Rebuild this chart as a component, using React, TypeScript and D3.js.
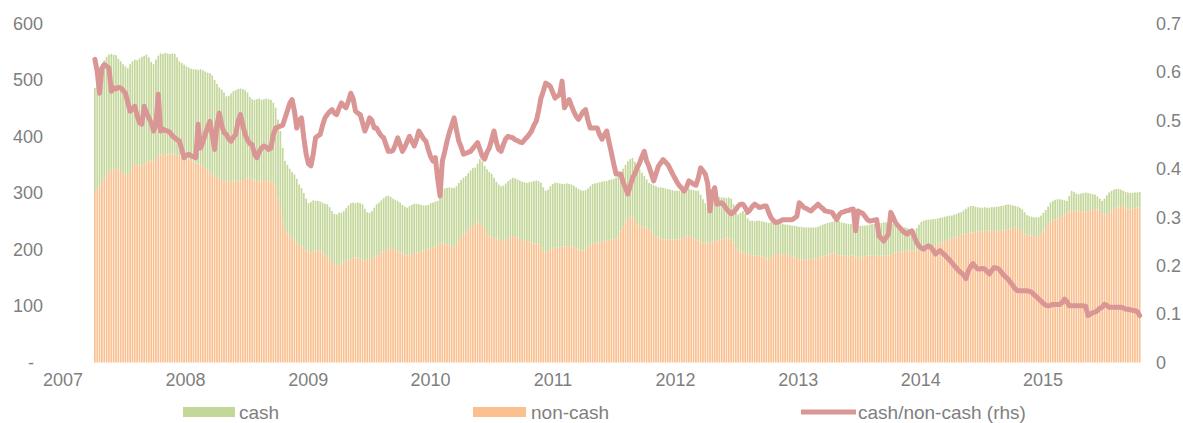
import React from 'react';
import * as d3 from 'd3';

// weekly observations, first week ending 6 Apr 2007
const firstWeek = new Date(2007, 3, 6);

const nonCash = [
  300, 305, 312, 318, 325, 332, 337, 341, 344, 343,
  340, 339, 336, 333, 330, 338, 346, 351, 350, 348,
  349, 352, 355, 357, 356, 356, 360, 366, 368, 367,
  369, 368, 370, 368, 368, 366, 367, 365, 363, 362,
  360, 358, 356, 354, 352, 351, 348, 344, 340, 336,
  332, 330, 327, 325, 323, 322, 321, 321, 320, 322,
  321, 322, 321, 323, 325, 326, 327, 324, 322, 321,
  320, 322, 321, 323, 321, 320, 318, 310, 290, 270,
  248, 236, 230, 225, 220, 215, 212, 208, 205, 203,
  198, 196, 195, 197, 199, 198, 198, 195, 191, 186,
  183, 178, 174, 171, 172, 175, 178, 180, 181, 183,
  185, 186, 186, 184, 181, 180, 182, 183, 183, 186,
  189, 192, 195, 197, 199, 201, 203, 201, 199, 196,
  195, 193, 191, 189, 190, 192, 194, 195, 195, 196,
  198, 200, 202, 203, 203, 205, 208, 210, 212, 211,
  209, 207, 206, 206, 210, 216, 222, 227, 230, 234,
  238, 242, 245, 248, 247, 242, 236, 229, 223, 221,
  220, 219, 217, 215, 215, 217, 220, 222, 224, 223,
  221, 219, 217, 216, 215, 214, 213, 211, 210, 209,
  204, 197, 195, 197, 200, 202, 203, 203, 204, 205,
  205, 206, 206, 205, 204, 202, 200, 198, 198, 200,
  205, 209, 210, 211, 212, 213, 214, 215, 216, 217,
  218, 218, 219, 225, 232, 240, 248, 254, 259, 257,
  250, 244, 242, 240, 240, 239, 236, 232, 226, 223,
  221, 220, 218, 218, 218, 217, 218, 218, 218, 219,
  220, 222, 223, 224, 222, 220, 218, 216, 213, 212,
  211, 212, 213, 214, 215, 216, 217, 218, 220, 221,
  220, 218, 212, 204, 200, 197, 195, 194, 192, 191,
  190, 190, 189, 189, 188, 186, 184, 183, 186, 190,
  192, 192, 192, 191, 192, 192, 190, 188, 186, 183,
  183, 183, 182, 183, 183, 183, 183, 184, 185, 186,
  188, 189, 189, 191, 193, 194, 192, 190, 189, 189,
  189, 188, 189, 189, 188, 186, 186, 187, 188, 189,
  189, 189, 190, 189, 188, 189, 189, 190, 189, 191,
  194, 195, 196, 196, 197, 197, 198, 198, 198, 198,
  198, 198, 197, 198, 198, 199, 200, 202, 206, 210,
  211, 212, 214, 215, 217, 219, 221, 223, 224, 226,
  227, 228, 229, 230, 230, 231, 232, 232, 233, 233,
  233, 233, 234, 233, 233, 233, 233, 234, 235, 236,
  237, 238, 239, 238, 236, 231, 227, 226, 225, 225,
  224, 224, 224, 226, 232, 238, 245, 248, 251, 253,
  255, 256, 259, 262, 265, 267, 268, 269, 268, 268,
  267, 268, 268, 268, 269, 270, 271, 271, 270, 262,
  260, 262, 265, 268, 271, 274, 276, 277, 276, 273,
  271, 271, 272, 273, 274, 274,
];

const cash = [
  186, 195, 203, 210, 210, 209, 208, 205, 201, 201,
  198, 194, 192, 191, 191, 190, 187, 185, 185, 190,
  192, 191, 190, 183, 176, 172, 176, 177, 179, 179,
  179, 179, 176, 179, 178, 174, 166, 165, 164, 162,
  162, 162, 163, 165, 166, 168, 169, 171, 173, 176,
  176, 170, 166, 162, 160, 156, 150, 151, 156, 158,
  161, 162, 164, 161, 157, 152, 143, 142, 143, 145,
  147, 143, 145, 144, 145, 145, 142, 141, 140, 140,
  132, 121, 120, 118, 117, 118, 113, 107, 104, 97,
  92, 86, 89, 90, 87, 88, 87, 88, 90, 94,
  92, 90, 89, 91, 93, 90, 90, 93, 97, 99,
  98, 96, 97, 98, 99, 92, 84, 82, 85, 88,
  91, 91, 92, 94, 95, 94, 90, 89, 89, 90,
  88, 86, 85, 85, 87, 87, 87, 86, 85, 83,
  80, 78, 77, 79, 80, 80, 78, 82, 97, 97,
  100, 103, 103, 103, 102, 102, 101, 100, 100, 101,
  102, 102, 100, 104, 113, 114, 112, 113, 114, 113,
  107, 101, 98, 97, 98, 100, 101, 102, 103, 103,
  103, 103, 103, 103, 103, 105, 107, 110, 112, 112,
  114, 113, 109, 109, 112, 114, 115, 115, 113, 111,
  111, 111, 110, 110, 109, 108, 107, 107, 106, 105,
  103, 103, 106, 106, 106, 106, 106, 106, 105, 106,
  106, 107, 108, 105, 104, 103, 102, 102, 101, 105,
  105, 103, 100, 96, 90, 85, 82, 84, 88, 89,
  89, 90, 91, 90, 89, 89, 87, 86, 86, 85,
  85, 84, 83, 83, 84, 85, 86, 88, 84, 77,
  71, 64, 61, 66, 72, 76, 76, 74, 72, 70,
  72, 72, 68, 61, 62, 68, 73, 69, 63, 60,
  61, 60, 62, 62, 62, 63, 64, 64, 62, 58,
  55, 54, 53, 54, 52, 52, 53, 54, 56, 58,
  57, 57, 57, 56, 56, 56, 56, 55, 55, 56,
  56, 56, 58, 57, 56, 56, 59, 60, 59, 58,
  57, 57, 56, 55, 55, 56, 56, 55, 54, 54,
  55, 56, 55, 57, 59, 58, 59, 58, 59, 56,
  51, 48, 45, 44, 42, 42, 40, 38, 36, 35,
  40, 46, 52, 53, 54, 54, 53, 52, 48, 45,
  45, 45, 44, 44, 43, 41, 41, 40, 41, 40,
  42, 44, 46, 47, 47, 45, 43, 42, 41, 42,
  41, 41, 41, 42, 43, 43, 44, 44, 44, 44,
  42, 40, 38, 38, 38, 40, 39, 35, 34, 33,
  33, 33, 33, 34, 33, 32, 31, 35, 35, 35,
  34, 33, 29, 25, 21, 28, 36, 33, 31, 30,
  32, 32, 33, 32, 30, 28, 26, 23, 20, 24,
  30, 34, 36, 36, 35, 33, 31, 29, 28, 29,
  30, 29, 28, 28, 27, 28,
];

const ratio = [
  0.626, 0.601, 0.556, 0.608, 0.615, 0.612, 0.608, 0.56, 0.567, 0.565,
  0.568, 0.567, 0.562, 0.556, 0.538, 0.519, 0.524, 0.529, 0.51, 0.495,
  0.492, 0.529, 0.515, 0.505, 0.495, 0.478, 0.49, 0.554, 0.478, 0.482,
  0.479, 0.478, 0.475, 0.468, 0.464, 0.46, 0.457, 0.44, 0.423, 0.428,
  0.43, 0.427, 0.425, 0.423, 0.492, 0.443, 0.455, 0.471, 0.485, 0.498,
  0.47, 0.44, 0.49, 0.515, 0.49, 0.475, 0.471, 0.462, 0.457, 0.465,
  0.471, 0.498, 0.512, 0.49, 0.471, 0.46, 0.452, 0.45, 0.43, 0.423,
  0.435, 0.443, 0.447, 0.445, 0.44, 0.443, 0.47, 0.484, 0.486, 0.488,
  0.49, 0.505, 0.52, 0.535, 0.543, 0.519, 0.484, 0.5, 0.505, 0.464,
  0.43, 0.41, 0.406, 0.43, 0.464, 0.468, 0.471, 0.49, 0.505, 0.512,
  0.518, 0.522, 0.515, 0.512, 0.525, 0.536, 0.53, 0.526, 0.54, 0.556,
  0.545, 0.519, 0.515, 0.512, 0.495, 0.478, 0.49, 0.505, 0.5, 0.484,
  0.484, 0.475, 0.468, 0.464, 0.45, 0.436, 0.436, 0.438, 0.45, 0.464,
  0.45, 0.436, 0.445, 0.456, 0.467, 0.457, 0.447, 0.46, 0.478, 0.47,
  0.462, 0.457, 0.44, 0.425, 0.416, 0.423, 0.38, 0.344, 0.416, 0.435,
  0.457, 0.475, 0.49, 0.505, 0.48, 0.457, 0.445, 0.43, 0.432, 0.434,
  0.436, 0.442, 0.448, 0.454, 0.44, 0.426, 0.42, 0.434, 0.443, 0.46,
  0.478, 0.455, 0.44, 0.436, 0.45, 0.462, 0.467, 0.465, 0.464, 0.46,
  0.458, 0.455, 0.454, 0.46, 0.465, 0.471, 0.478, 0.49, 0.498, 0.52,
  0.546, 0.56, 0.577, 0.574, 0.57, 0.558, 0.546, 0.55, 0.553, 0.581,
  0.526, 0.535, 0.543, 0.53, 0.518, 0.508, 0.502, 0.51, 0.518, 0.522,
  0.5, 0.484, 0.484, 0.484, 0.484, 0.47, 0.461, 0.47, 0.478, 0.455,
  0.433, 0.41, 0.389, 0.389, 0.389, 0.372, 0.36, 0.348, 0.365, 0.381,
  0.39, 0.402, 0.412, 0.425, 0.436, 0.416, 0.405, 0.39, 0.375, 0.39,
  0.405, 0.412, 0.419, 0.414, 0.409, 0.4, 0.39, 0.381, 0.372, 0.365,
  0.36, 0.354, 0.362, 0.375, 0.372, 0.368, 0.366, 0.381, 0.402, 0.396,
  0.389, 0.37, 0.313, 0.35, 0.361, 0.327, 0.328, 0.33, 0.325, 0.317,
  0.312, 0.307, 0.31, 0.316, 0.323, 0.327, 0.327, 0.32, 0.31, 0.315,
  0.322, 0.327, 0.324, 0.32, 0.321, 0.323, 0.323, 0.31, 0.299, 0.293,
  0.289, 0.29, 0.292, 0.295, 0.295, 0.295, 0.295, 0.295, 0.298, 0.302,
  0.33, 0.325, 0.32, 0.318, 0.315, 0.313, 0.318, 0.322, 0.327, 0.322,
  0.318, 0.313, 0.312, 0.311, 0.31, 0.302, 0.295, 0.305, 0.31, 0.311,
  0.313, 0.314, 0.316, 0.317, 0.272, 0.313, 0.31, 0.308, 0.302, 0.295,
  0.292, 0.293, 0.294, 0.295, 0.261, 0.256, 0.251, 0.258, 0.265, 0.31,
  0.3, 0.289, 0.283, 0.278, 0.272, 0.268, 0.265, 0.27, 0.272, 0.26,
  0.248, 0.241, 0.236, 0.234, 0.238, 0.241, 0.238, 0.232, 0.224, 0.228,
  0.231, 0.226, 0.222, 0.217, 0.212, 0.206, 0.2, 0.195, 0.189, 0.185,
  0.181, 0.173, 0.189, 0.198, 0.204, 0.198, 0.193, 0.193, 0.194, 0.193,
  0.188, 0.183, 0.19, 0.196, 0.195, 0.193, 0.187, 0.181, 0.176, 0.172,
  0.165, 0.159, 0.152, 0.148, 0.148, 0.148, 0.148, 0.148, 0.147, 0.145,
  0.14, 0.136, 0.131, 0.127, 0.122, 0.118, 0.117, 0.118, 0.12, 0.12,
  0.12, 0.12, 0.124, 0.131, 0.126, 0.117, 0.117, 0.117, 0.117, 0.117,
  0.117, 0.117, 0.116, 0.097, 0.1, 0.103, 0.104, 0.107, 0.112, 0.114,
  0.12, 0.118, 0.114, 0.114, 0.114, 0.114, 0.114, 0.114, 0.113, 0.11,
  0.11, 0.109, 0.108, 0.107, 0.105, 0.097,
];

const years = [2007, 2008, 2009, 2010, 2011, 2012, 2013, 2014, 2015];
const leftTicks = [0, 100, 200, 300, 400, 500, 600];
const rightTicks = [0, 0.1, 0.2, 0.3, 0.4, 0.5, 0.6, 0.7];

const GREEN = '#c4d79b';
const ORANGE = '#fac090';
const RED = '#d99694';
const TEXT = '#7f7f7f';
const FONT = '"Liberation Sans", Arial, sans-serif';

const W = 1183;
const H = 423;

const App = () => {
  const weeks = nonCash.map((_, i) => d3.timeWeek.offset(firstWeek, i));

  const x = d3
    .scaleTime()
    .domain([new Date(2007, 0, 1), new Date(2016, 0, 1)])
    .range([63, 1165.5]);
  const yL = d3.scaleLinear().domain([0, 600]).range([362.5, 23.5]);
  const yR = d3.scaleLinear().domain([0, 0.7]).range([362.5, 23.5]);

  const step = x(d3.timeWeek.offset(firstWeek, 1)) - x(firstWeek);
  const bw = step * 0.72;

  const line = d3
    .line<number>()
    .x((_, i) => x(weeks[i]))
    .y((d) => yR(d));

  return (
    <svg
      width={W}
      height={H}
      style={{ position: 'absolute', left: 0, top: 0, background: '#fff' }}
      fontFamily={FONT}
    >
      {/* stacked weekly bars */}
      <g>
        {weeks.map((w, i) => {
          const cx = x(w) - bw / 2;
          const n = nonCash[i];
          const c = cash[i];
          return (
            <g key={i}>
              <rect x={cx} y={yL(n)} width={bw} height={yL(0) - yL(n)} fill={ORANGE} />
              <rect x={cx} y={yL(n + c)} width={bw} height={yL(n) - yL(n + c)} fill={GREEN} />
            </g>
          );
        })}
      </g>

      <path
        d={line(ratio) || ''}
        fill="none"
        stroke={RED}
        strokeWidth={5}
        strokeLinejoin="round"
        strokeLinecap="round"
      />

      {/* left axis */}
      <g fill={TEXT} fontSize={18}>
        {leftTicks.map((t) => (
          <text
            key={t}
            x={t === 0 ? 34 : 43}
            y={yL(t)}
            dy="0.35em"
            textAnchor="end"
          >
            {t === 0 ? '-' : t}
          </text>
        ))}
      </g>

      {/* right axis */}
      <g fill={TEXT} fontSize={18}>
        {rightTicks.map((t) => (
          <text key={t} x={1156} y={yR(t)} dy="0.35em" textAnchor="start">
            {t === 0 ? '0' : t.toFixed(1)}
          </text>
        ))}
      </g>

      {/* x axis */}
      <g fill={TEXT} fontSize={18}>
        {years.map((yr) => (
          <text key={yr} x={x(new Date(yr, 0, 1))} y={380} dy="0.35em" textAnchor="middle">
            {yr}
          </text>
        ))}
      </g>

      {/* legend */}
      <g fontSize={19} fill={TEXT}>
        <rect x={183} y={407} width={52} height={10} fill={GREEN} />
        <text x={239} y={412} dy="0.35em">cash</text>
        <rect x={473} y={407} width={53} height={10} fill={ORANGE} />
        <text x={531} y={412} dy="0.35em">non-cash</text>
        <line x1={801} x2={856} y1={412} y2={412} stroke={RED} strokeWidth={5} />
        <text x={858} y={412} dy="0.35em">cash/non-cash (rhs)</text>
      </g>
    </svg>
  );
};

export default App;
